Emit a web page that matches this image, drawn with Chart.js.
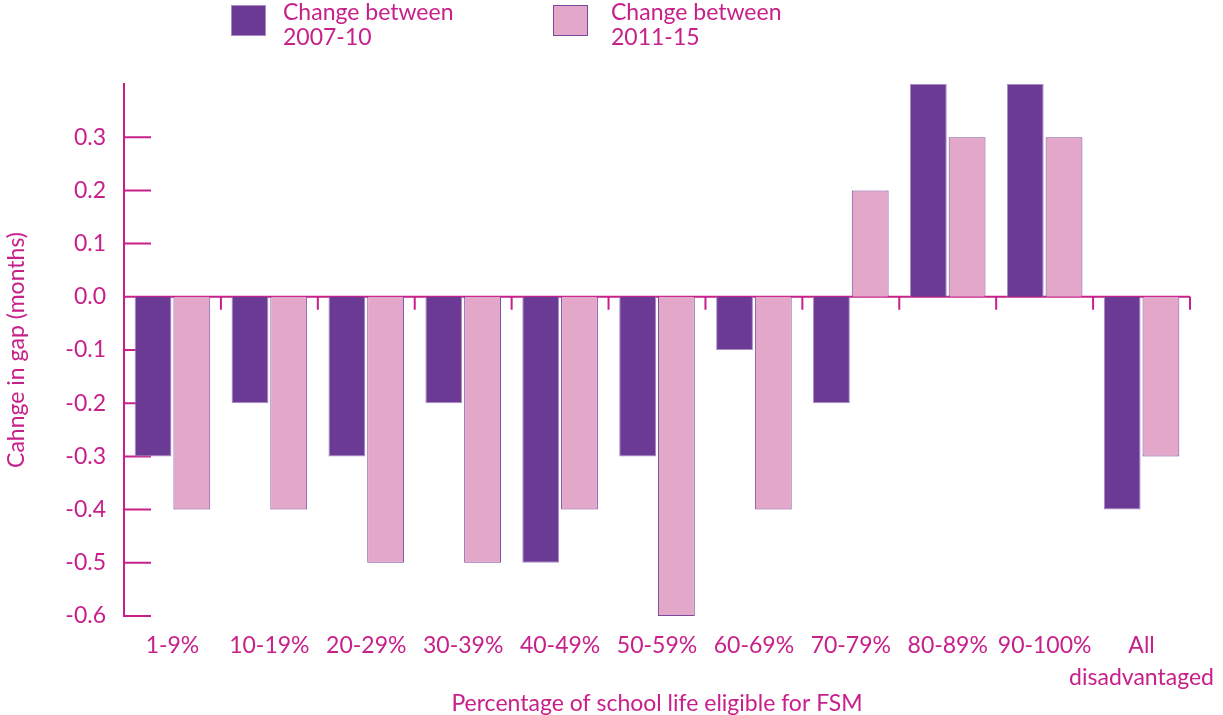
<!DOCTYPE html>
<html>
<head>
<meta charset="utf-8">
<script src="https://cdn.jsdelivr.net/npm/chart.js@4/dist/chart.umd.min.js"></script>
<style>
  body { margin: 0; background: #fff; }
  #wrap { position: relative; width: 1223px; height: 715px; }
  #legend { position: absolute; top: 0; left: 0; font-family: Lato, sans-serif; font-size: 23px; color: #c8208a; line-height: 25px; }
  .item { position: absolute; top: 0; }
  .box { position: absolute; top: 5px; width: 35px; height: 31px; box-sizing: border-box; }
  .txt { position: absolute; top: -1px; white-space: nowrap; }
</style>
</head>
<body>
<div id="wrap">
  <canvas id="grafico" width="1223" height="715"></canvas>
  <div id="legend">
    <div class="item" style="left:231px">
      <div class="box" style="background:#6a3a95;border:1px solid #a98cc4"></div>
      <div class="txt" style="left:52px">Change between<br>2007-10</div>
    </div>
    <div class="item" style="left:553px">
      <div class="box" style="background:#e3a8c9;border:1px solid #7b4aa0"></div>
      <div class="txt" style="left:58px">Change between<br>2011-15</div>
    </div>
  </div>
</div>
<script>
const categorias = ['1-9%', '10-19%', '20-29%', '30-39%', '40-49%', '50-59%', '60-69%', '70-79%', '80-89%', '90-100%', ['All', 'disadvantaged']];
const mudanca0710 = [-0.3, -0.2, -0.3, -0.2, -0.5, -0.3, -0.1, -0.2, 0.4, 0.4, -0.4];
const mudanca1115 = [-0.4, -0.4, -0.5, -0.5, -0.4, -0.6, -0.4, 0.2, 0.3, 0.3, -0.3];
const ticksY = [-0.6, -0.5, -0.4, -0.3, -0.2, -0.1, 0.0, 0.1, 0.2, 0.3];

const cor = '#c8208a';
const fonte = { family: 'Lato, sans-serif', size: 23 };

// eixo do zero com marcas para baixo + marcas do eixo Y para dentro
const eixos = {
    id: 'eixos',
    beforeDatasetsDraw(chart) {
        const c = chart.ctx, a = chart.chartArea;
        const y0 = chart.scales.y.getPixelForValue(0);
        const x = chart.scales.x;
        c.save();
        c.strokeStyle = cor;
        c.lineWidth = 2;
        c.beginPath();
        c.moveTo(a.left, y0);
        c.lineTo(a.right, y0);
        for (let i = 0; i < categorias.length; i++) {
            const xr = i + 1 < categorias.length ? (x.getPixelForValue(i) + x.getPixelForValue(i + 1)) / 2 : a.right;
            c.moveTo(xr, y0);
            c.lineTo(xr, y0 + 13);
        }
        ticksY.forEach(v => {
            const yy = chart.scales.y.getPixelForValue(v);
            c.moveTo(a.left, yy);
            c.lineTo(a.left + 27, yy);
        });
        c.stroke();
        c.restore();
    }
};

const ctx = document.getElementById('grafico').getContext('2d');
const grafico = new Chart(ctx, {
    type: 'bar',
    data: {
        labels: categorias,
        datasets: [{
            label: 'Change between 2007-10',
            data: mudanca0710,
            backgroundColor: '#6a3a95',
            borderColor: '#a98cc4',
            borderWidth: 1
        }, {
            label: 'Change between 2011-15',
            data: mudanca1115,
            backgroundColor: '#e3a8c9',
            borderColor: '#7b4aa0',
            borderWidth: 1
        }]
    },
    options: {
        responsive: false,
        animation: false,
        layout: { padding: { top: 84, right: 33, left: 0, bottom: 0 } },
        datasets: { bar: { categoryPercentage: 0.8, barPercentage: 0.95 } },
        plugins: { legend: { display: false }, tooltip: { enabled: false } },
        scales: {
            x: {
                grid: { display: false, drawTicks: false },
                border: { display: false },
                ticks: { color: cor, font: { ...fonte, lineHeight: 1.4 }, padding: 13, maxRotation: 0, autoSkip: false },
                title: { display: true, text: 'Percentage of school life eligible for FSM', color: cor, font: fonte, padding: { top: 0, bottom: -2 } },
                afterFit(s) { s.height = 99; s.paddingLeft = 0; s.paddingRight = 0; }
            },
            y: {
                min: -0.6,
                max: 0.4,
                grid: { display: false, drawTicks: false },
                border: { display: true, color: cor, width: 2 },
                ticks: {
                    stepSize: 0.1,
                    color: cor,
                    font: fonte,
                    padding: 18,
                    callback: v => (Math.abs(v - 0.4) < 1e-9 ? '' : v.toFixed(1))
                },
                title: { display: true, text: 'Cahnge in gap (months)', color: cor, font: fonte, padding: { top: 3, bottom: 0 } },
                afterFit(s) { s.width = 124; }
            }
        }
    },
    plugins: [eixos]
});
</script>
</body>
</html>
